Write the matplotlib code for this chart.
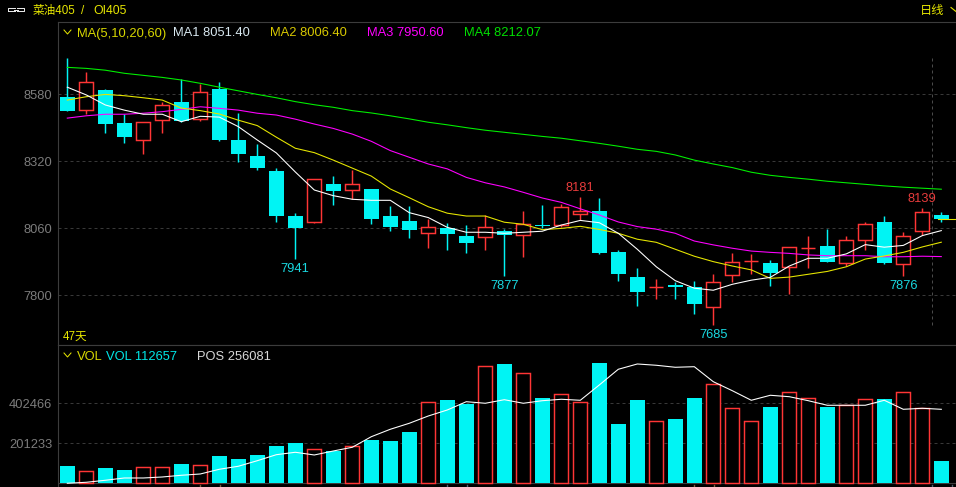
import matplotlib
matplotlib.use("Agg")
import matplotlib.pyplot as plt
from matplotlib.lines import Line2D

plt.rcParams['font.family'] = ['Liberation Sans', 'Noto Sans CJK SC', 'DejaVu Sans']

opens = [8570,8518,8596,8469,8404,8480,8551,8486,8601,8403,8341,8283,8108,8085,8232,8210,
         8213,8108,8089,8043,8062,8030,8028,8050,8036,8075,8074,8117,8128,7968,7871,7832,
         7840,7832,7756,7880,7934,7926,7911,7984,7992,7927,8016,8085,7923,8051,8112]
closes = [8517,8627,8466,8416,8472,8538,8478,8588,8404,8350,8296,8109,8062,8252,8206,8231,
          8098,8065,8054,8064,8038,8003,8064,8034,8076,8071,8142,8128,7964,7883,7813,7832,
          7832,7767,7851,7928,7934,7887,7987,7984,7930,8014,8076,7926,8029,8122,8095]
highs = [8721,8667,8601,8504,8472,8551,8639,8622,8628,8508,8388,8294,8120,8252,8263,8287,
         8213,8147,8147,8096,8081,8073,8112,8058,8128,8151,8155,8181,8178,7976,7906,7864,
         7852,7856,7883,7964,7961,7937,7988,8031,8058,8031,8085,8108,8046,8139,8124]
lows = [8517,8503,8430,8391,8350,8430,8473,8478,8399,8319,8287,8085,7941,8081,8152,8173,
        8077,8050,8023,7984,7976,7964,7976,7877,7949,8062,8065,8093,7961,7856,7759,7786,
        7786,7728,7685,7852,7883,7836,7805,7906,7930,7914,7976,7922,7876,8034,8085]
ma1 = [8608,8578,8539,8519,8503,8503,8474,8495,8492,8455,8403,8353,8279,8209,8187,8173,
       8169,8169,8121,8102,8064,8045,8045,8041,8045,8049,8073,8091,8082,8041,7979,7911,
       7857,7828,7820,7843,7859,7870,7914,7944,7944,7961,7997,7987,7994,8032,8051.4]
ma2 = [8558,8571,8580,8575,8567,8558,8527,8517,8504,8480,8459,8414,8371,8354,8325,8294,
       8263,8213,8179,8144,8119,8108,8108,8084,8076,8055,8060,8068,8056,8041,8018,8006,
       7979,7952,7931,7914,7899,7866,7871,7882,7893,7911,7941,7953,7967,7988,8006.4]
ma3 = [8488,8497,8503,8503,8507,8513,8522,8532,8526,8519,8507,8500,8484,8465,8448,8426,
       8398,8362,8336,8310,8291,8258,8237,8221,8200,8178,8161,8136,8112,8085,8067,8057,
       8041,8011,7996,7983,7972,7967,7963,7957,7954,7954,7954,7950,7950,7952,7950.6]
ma4 = [8685,8681,8674,8662,8654,8646,8636,8623,8608,8594,8580,8567,8552,8540,8530,8517,
       8508,8497,8485,8472,8462,8451,8441,8433,8425,8417,8410,8400,8390,8379,8367,8359,
       8345,8325,8310,8296,8278,8266,8258,8251,8243,8237,8231,8225,8220,8216,8212.07]
volume = [87000,60400,77000,66900,80500,80500,97100,90600,137300,122300,142400,187700,
          202700,171100,162500,186100,217800,212800,258100,407500,419100,399000,588600,
          600200,553400,429100,447800,407500,605200,298300,419100,311900,323500,429100,
          498100,377300,311900,383900,457800,427600,383900,392400,422600,424100,457800,
          380300,112657]
position = [204300,205000,206400,208000,208000,208700,209900,210800,214100,216200,220100,
            224300,226000,224100,226900,229500,236900,242100,246300,251400,255600,261400,
            260300,262800,260300,262100,263100,262400,273100,284100,287800,286900,285500,
            285900,275400,269100,262400,265900,264900,262100,258900,258900,258900,262400,
            256081,256800,256081]
price_ticks = [8580, 8320, 8060, 7800]
volume_ticks = [402466, 201233]
high_marks = [27, 45]
low_marks = [12, 23, 34, 44]

W, H = 956, 487
CYAN = '#00f4f4'
RED = '#ff3535'
YELLOW = '#e6e600'
GREY = '#7c7c7c'
LINE = '#3c3c3c'
GRID = '#383838'
LW = 0.72
EDGE = 1.05
THIN = 0.78
FS = 9.3

fig = plt.figure(figsize=(W / 100, H / 100), dpi=100, facecolor='black')

def rect(x0, y0, x1, y1):
    return [x0 / W, 1 - y1 / H, (x1 - x0) / W, (y1 - y0) / H]

def fx(x):
    return x / W

def fy(y):
    return 1 - y / H

TOP, MID, BOT, LEFT = 21.5, 344.5, 487.0, 57.5
X0, STEP = 67.3, 19.0
xlim = ((LEFT - X0) / STEP, (W - X0) / STEP)

ax = fig.add_axes(rect(LEFT, TOP, W, MID), facecolor='black')
ax.set_xlim(*xlim)
ax.set_ylim(8946.4 - 3.881 * MID, 8946.4 - 3.881 * TOP)
vx = fig.add_axes(rect(LEFT, MID, W, BOT), facecolor='black')
vx.set_xlim(*xlim)
vx.set_ylim(-3.7 * 5031, 138.8 * 5031)
px = vx.twinx()
px.set_ylim(256081 - 77.7 * 700, 256081 + 64.8 * 700)
px.set_yticks([])
px.set_xlim(*xlim)

for a in (ax, vx, px):
    a.set_xticks([])
    for s in a.spines.values():
        s.set_visible(False)
for a in (ax, vx):
    a.spines['left'].set_visible(True)
    a.spines['left'].set_color(LINE)
    a.spines['left'].set_linewidth(0.8)
    a.spines['top'].set_visible(True)
    a.spines['top'].set_color(LINE)
    a.spines['top'].set_linewidth(0.8)
    a.tick_params(axis='y', length=0, pad=3.8, labelcolor=GREY, labelsize=FS)
    a.grid(axis='y', color=GRID, linewidth=LW, linestyle=(0, (3, 3)), zorder=0)
    a.set_axisbelow(True)
ax.spines['bottom'].set_visible(True)
ax.spines['bottom'].set_color(LINE)
ax.spines['bottom'].set_linewidth(0.8)
ax.set_yticks(price_ticks)
ax.set_yticklabels([str(v) for v in price_ticks])
vx.set_yticks(volume_ticks)
vx.set_yticklabels([str(v) for v in volume_ticks])
vx.axhline(0, color=LINE, lw=0.8, zorder=1)

n = len(opens)
xs = list(range(n))
for i in xs:
    up = closes[i] >= opens[i]
    c = RED if up else CYAN
    ax.plot([i, i], [lows[i], highs[i]], color=c, lw=EDGE,
            solid_capstyle='butt', snap=True, zorder=2)
    lo, hi = min(opens[i], closes[i]), max(opens[i], closes[i])
    w = (14.0 if up else 15.0) / STEP
    ax.bar(i, hi - lo, w, lo, facecolor='black' if up else CYAN, edgecolor=c,
           linewidth=EDGE if up else 0, snap=True, zorder=3)
    vx.bar(i, volume[i], w, 0, facecolor='black' if up else CYAN, edgecolor=c,
           linewidth=EDGE if up else 0, snap=True, zorder=3)

for series, col in ((ma4, '#00f000'), (ma3, '#ff00ff'), (ma2, '#e6e600'), (ma1, '#ffffff')):
    ax.plot(xs, series, color=col, lw=THIN, zorder=5)
px.plot(xs, position, color='#ffffff', lw=THIN, zorder=5)

# last-price marker line and the crosshair-style vertical
ax.plot([n - 1 - 0.17, xlim[1]], [closes[-1], closes[-1]], color=YELLOW, lw=THIN,
        snap=True, zorder=6)
ax.plot([45.53, 45.53], [8946.4 - 3.881 * 325, 8946.4 - 3.881 * 58], color='#4a4a4a',
        lw=LW, linestyle=(0, (3, 3)), zorder=1)

for i in high_marks:
    ax.annotate(str(highs[i]), (i, highs[i]), xytext=(0, 6.5), textcoords='offset points',
                ha='center', va='center', color='#e83c3c', fontsize=FS, zorder=7)
for i in low_marks:
    ax.annotate(str(lows[i]), (i, lows[i]), xytext=(0, -7.2), textcoords='offset points',
                ha='center', va='center', color='#19d8e0', fontsize=FS, zorder=7)

def label(x, y, s, color, size=FS):
    fig.text(fx(x), fy(y), s, color=color, fontsize=size, ha='left', va='center_baseline')

def chevron(x, y, color=YELLOW):
    fig.add_artist(Line2D([fx(x - 3.5), fx(x), fx(x + 3.5)], [fy(y - 2), fy(y + 2), fy(y - 2)],
                          color=color, lw=0.72))

# header strip
for seg in ([(8, 11), (8, 8), (15, 8)], [(8, 11), (15, 11)], [(17, 8), (24, 8), (24, 11), (17, 11)]):
    fig.add_artist(Line2D([fx(p[0]) for p in seg], [fy(p[1]) for p in seg], color='#f0f0f0', lw=0.7))
fig.add_artist(Line2D([fx(14), fx(18)], [fy(9.5), fy(9.5)], color='#f0f0f0', lw=0.7))
label(33, 9.5, '菜油405', YELLOW, 8.4)
label(81, 9.5, '/', YELLOW, 8.4)
label(93, 9.5, 'OI405', YELLOW, 8.8)
label(920, 9.5, '日线', YELLOW, 8.8)
fig.add_artist(Line2D([fx(951), fx(956)], [fy(7.5), fy(11.5)], color=YELLOW, lw=0.8))

# MA legend
chevron(67.5, 32)
label(76.7, 32, 'MA(5,10,20,60)', '#d8d800')
label(173, 32, 'MA1 8051.40', '#d8e8f0')
label(270, 32, 'MA2 8006.40', '#d8c800')
label(367, 32, 'MA3 7950.60', '#ff00ff')
label(464, 32, 'MA4 8212.07', '#00e000')
label(62.5, 335.5, '47天', YELLOW, 8.4)

# volume legend
chevron(67.5, 355)
label(76.7, 355, 'VOL', '#d8d800')
label(106, 355, 'VOL 112657', '#00e8e8')
label(197, 355, 'POS 256081', '#d8d8d8')

# small date ticks along the bottom edge
for xp, col in ((200, '#806040'), (220, '#806040'), (447, '#506070'), (467, '#506070'),
                (694, '#806040'), (714, '#806040'), (932, '#506070'), (952, '#506070')):
    fig.add_artist(Line2D([fx(xp), fx(xp)], [fy(485), fy(487)], color=col, lw=1.0))

fig.savefig('out.png', dpi=100, facecolor='black')
